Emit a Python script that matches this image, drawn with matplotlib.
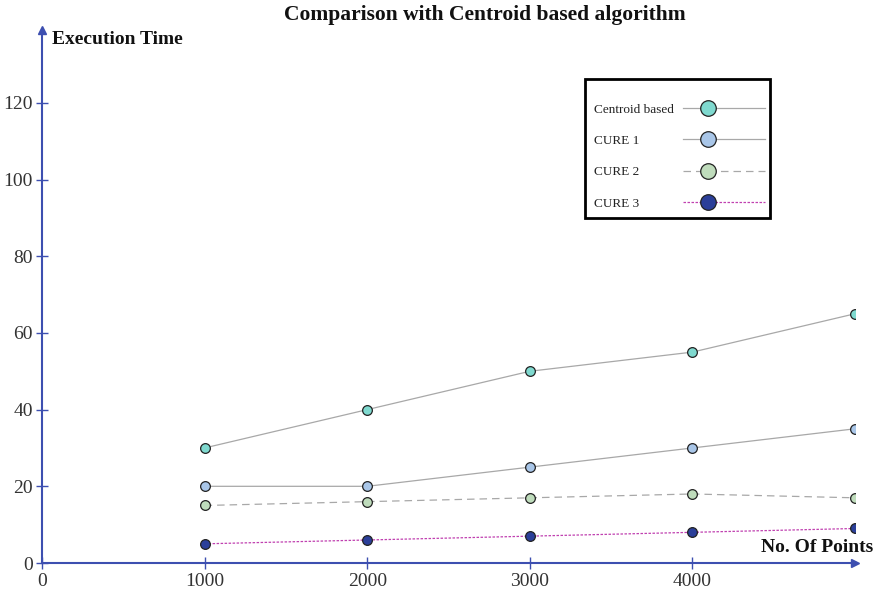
import matplotlib
matplotlib.use("Agg")
import matplotlib.pyplot as plt
from matplotlib.legend_handler import HandlerLine2D
from matplotlib.patches import Rectangle

plt.rcParams['font.family'] = ['Liberation Serif', 'DejaVu Serif']

x_points = [1000, 2000, 3000, 4000, 5000]
centroid = [30, 40, 50, 55, 65]
cure1 = [20, 20, 25, 30, 35]
cure2 = [15, 16, 17, 18, 17]
cure3 = [5, 6, 7, 8, 9]
xticks = [0, 1000, 2000, 3000, 4000]
yticks = [0, 20, 40, 60, 80, 100, 120]

axis_color = '#3d4fb0'
DPI = 100

fig = plt.figure(figsize=(8.78, 5.95), dpi=DPI)
ax = fig.add_axes([42/878, (595-563)/595, (855-42)/878, (563-30)/595])
ax.set_xlim(0, 5000)
ax.set_ylim(0, 139)

ms = 7
l1, = ax.plot(x_points, centroid, color='#a8a8a8', lw=0.9, marker='o', ms=ms,
              mfc='#7fd9cf', mec='#222222', mew=0.9, label='Centroid based')
l2, = ax.plot(x_points, cure1, color='#a8a8a8', lw=0.9, marker='o', ms=ms,
              mfc='#a9c6e8', mec='#222222', mew=0.9, label='CURE 1')
l3, = ax.plot(x_points, cure2, color='#a8a8a8', lw=0.9, ls=(0, (6, 4)), marker='o', ms=ms,
              mfc='#bfdcbc', mec='#222222', mew=0.9, label='CURE 2')
l4, = ax.plot(x_points, cure3, color='#c040b0', lw=0.9, ls=(0, (2, 1.2)), marker='o', ms=ms,
              mfc='#2b3f99', mec='#222222', mew=0.9, label='CURE 3')

for s in ['top', 'right']:
    ax.spines[s].set_visible(False)
for s in ['left', 'bottom']:
    ax.spines[s].set_color(axis_color)
    ax.spines[s].set_linewidth(1.5)
ax.plot(1, 0, '>', color=axis_color, ms=6, transform=ax.transAxes, clip_on=False)
ax.plot(0, 1, '^', color=axis_color, ms=6, transform=ax.transAxes, clip_on=False)

ax.set_xticks(xticks)
ax.set_yticks(yticks)
ax.tick_params(axis='both', direction='inout', length=9, width=1, color=axis_color,
               labelsize=14, labelcolor='#333333')
ax.tick_params(axis='x', pad=3)
ax.tick_params(axis='y', pad=2)

fig.text(485/878, 1 - 15/595, 'Comparison with Centroid based algorithm', ha='center', va='center',
         fontsize=15.5, fontweight='bold', color='#111111')
fig.text(52/878, 1 - 40/595, 'Execution Time', ha='left', va='center',
         fontsize=14, fontweight='bold', color='#111111')
fig.text(873/878, 1 - 548/595, 'No. Of Points', ha='right', va='center',
         fontsize=14, fontweight='bold', color='#111111')


class OffsetHandler(HandlerLine2D):
    def create_artists(self, legend, orig_handle, xdescent, ydescent, width, height,
                       fontsize, trans):
        arts = super().create_artists(legend, orig_handle, xdescent, ydescent, width,
                                      height, fontsize, trans)
        line = arts[0]
        x = list(line.get_xdata())
        if len(x) == 3:
            line.set_xdata([x[0], x[0] + 0.3 * (x[-1] - x[0]), x[-1]])
        return arts


box = Rectangle((585/878, 1 - 218/595), 185/878, 139/595, transform=fig.transFigure,
                fill=True, facecolor='white', edgecolor='black', lw=2, zorder=3, clip_on=False)
ax.add_patch(box)
leg_fs = 9.5
leg_tp = 0.7
leg = ax.legend(handles=[l1, l2, l3, l4], loc='upper left',
                bbox_to_anchor=(594/878, 1 - 103.5/595), bbox_transform=fig.transFigure,
                markerfirst=False, fontsize=leg_fs, handlelength=6.2, labelspacing=1.45,
                borderpad=0, borderaxespad=0, handletextpad=leg_tp, frameon=False,
                markerscale=1.6,
                handler_map={l1: OffsetHandler(), l2: OffsetHandler(), l3: OffsetHandler(), l4: OffsetHandler()})
leg.set_zorder(5)
for t in leg.get_texts():
    t.set_color('#222222')

# left-align the legend labels while keeping the handles in one column
fig.canvas.draw()
renderer = fig.canvas.get_renderer()
widths = [t.get_window_extent(renderer).width for t in leg.get_texts()]
maxw = max(widths)
for col in leg._legend_handle_box.get_children():
    col.align = 'left'
    for row, w in zip(col.get_children(), widths):
        row.sep = leg_tp * leg_fs + (maxw - w) * 72 / DPI

fig.savefig('out.png', dpi=DPI)
